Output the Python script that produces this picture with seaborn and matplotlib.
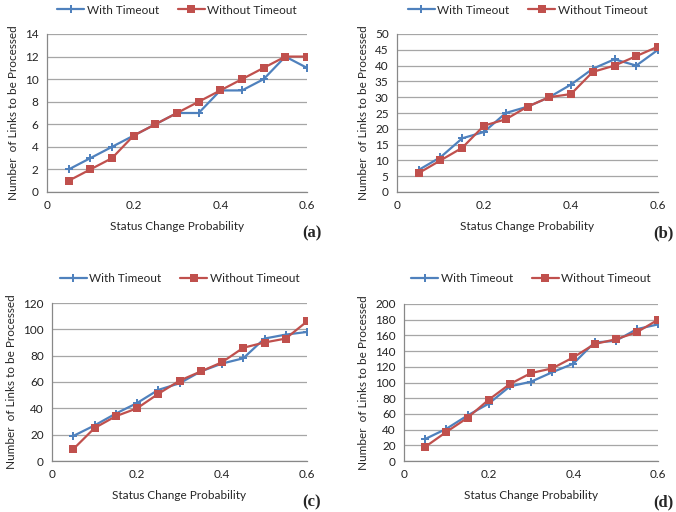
import matplotlib
matplotlib.use("Agg")
import matplotlib.pyplot as plt
import pandas as pd
import seaborn as sns

# x values shared by all panels
prob = [0.05, 0.10, 0.15, 0.20, 0.25, 0.30, 0.35, 0.40, 0.45, 0.50, 0.55, 0.60]

# (a)
a_with = [2, 3, 4, 5, 6, 7, 7, 9, 9, 10, 12, 11]
a_without = [1, 2, 3, 5, 6, 7, 8, 9, 10, 11, 12, 12]
# (b)
b_with = [7, 11, 17, 19, 25, 27, 30, 34, 39, 42, 40, 45]
b_without = [6, 10, 14, 21, 23, 27, 30, 31, 38, 40, 43, 46]
# (c)
c_with = [19, 27, 36, 44, 54, 59, 68, 74, 78, 93, 96, 98]
c_without = [9, 25, 34, 40, 51, 61, 68, 75, 86, 90, 93, 106]
# (d)
d_with = [28, 41, 58, 73, 95, 101, 113, 124, 151, 153, 168, 174]
d_without = [18, 37, 55, 78, 98, 112, 118, 132, 149, 155, 164, 180]

panel_labels = ["(a)", "(b)", "(c)", "(d)"]
y_limits = [14, 50, 120, 200]
y_steps = [2, 5, 20, 20]
x_ticks = [0, 0.2, 0.4, 0.6]

BLUE = "#4F81BD"
RED = "#C0504D"
GRID = "#A6A6A6"

sns.set_style("white")
plt.rcParams['font.family'] = ['Lato', 'DejaVu Sans']

W, H = 676, 512
fig = plt.figure(figsize=(W / 100, H / 100), dpi=100)

# plot area boxes in pixels: left, right, top, bottom
boxes = [(47, 307, 34, 192), (397, 658, 34, 192),
         (52, 307, 303, 461), (404, 658, 304, 461)]
legend_y = [10, 10, 279, 279]
series = [(a_with, a_without), (b_with, b_without),
          (c_with, c_without), (d_with, d_without)]

for i, (l, r, t, b) in enumerate(boxes):
    ax = fig.add_axes([l / W, 1 - b / H, (r - l) / W, (b - t) / H])
    w_vals, wo_vals = series[i]
    df = pd.DataFrame({"p": prob * 2,
                       "n": w_vals + wo_vals,
                       "s": ["With Timeout"] * 12 + ["Without Timeout"] * 12})
    sns.lineplot(data=df, x="p", y="n", hue="s", style="s",
                 palette=[BLUE, RED], markers=["P", "s"], dashes=False,
                 markersize=5.5, linewidth=1.6, markeredgewidth=0,
                 ax=ax, legend=True)
    ax.set_xlim(0, 0.6)
    ax.set_ylim(0, y_limits[i])
    ax.set_xticks(x_ticks)
    ax.set_xticklabels(["0", "0.2", "0.4", "0.6"])
    ax.set_yticks(range(0, y_limits[i] + 1, y_steps[i]))
    ax.yaxis.grid(True, color=GRID, linewidth=0.9)
    ax.set_axisbelow(True)
    for side in ["top", "right"]:
        ax.spines[side].set_visible(False)
    for side in ["left", "bottom"]:
        ax.spines[side].set_color("#888888")
        ax.spines[side].set_linewidth(0.9)
    ax.tick_params(axis="both", labelsize=8.5, colors="#222222", width=0.8)
    ax.tick_params(axis="y", length=3, pad=3, color="#888888")
    ax.tick_params(axis="x", length=3, pad=6, direction="in", color="#888888")
    ax.set_xlabel("Status Change Probability", fontsize=8.5, labelpad=7)
    ax.set_ylabel("Number  of Links to be Processed", fontsize=8.5, labelpad=4)

    handles, labels = ax.get_legend_handles_labels()
    ax.legend_.remove()
    cx = (l + r) / 2 / W
    fig.legend(handles, labels, loc="center", ncol=2, frameon=False,
               fontsize=8.5, bbox_to_anchor=(cx, 1 - legend_y[i] / H),
               handlelength=2.3, columnspacing=1.6, handletextpad=0.2)

    fig.text((r + 5) / W, 1 - (b + 41) / H, panel_labels[i],
             family="Liberation Serif", fontweight="bold", fontsize=12,
             ha="center", va="center")

fig.savefig("out.png", dpi=100)
